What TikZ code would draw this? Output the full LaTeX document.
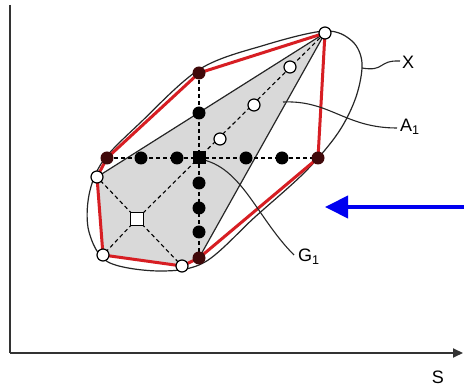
\documentclass[tikz,border=0pt]{standalone}
\usepackage{fontspec}
\setmainfont{Liberation Sans}
\usetikzlibrary{arrows.meta}
\definecolor{polyred}{RGB}{215,30,35}
\definecolor{arrowblue}{RGB}{0,0,240}
\tikzset{
  fdot/.style={circle,fill=black,inner sep=0pt,minimum size=13pt},
  rdot/.style={circle,fill=black!70!polyred,inner sep=0pt,minimum size=13pt},
  odot/.style={circle,draw=black,fill=white,line width=1.2pt,inner sep=0pt,minimum size=12pt},
  fsq/.style={rectangle,fill=black,inner sep=0pt,minimum size=13pt},
  osqr/.style={rectangle,draw=black,fill=white,line width=1.3pt,inner sep=0pt,minimum size=12.5pt},
  dashln/.style={line width=1.1pt,dash pattern=on 4pt off 3pt},
  outline/.style={line width=1.2pt,black!85},
  redpoly/.style={line width=3pt,polyred,line join=round},
  leader/.style={line width=1.1pt,black!85},
  lbl/.style={font=\fontsize{18}{20}\selectfont,inner sep=0pt},
  axis/.style={line width=2pt,black!80}
}
\begin{document}
\begin{tikzpicture}[x=1pt,y=-1pt]
\useasboundingbox[fill=white] (0,0) rectangle (464,387);
% coordinates
\coordinate (T) at (325,33);
\coordinate (O1) at (290,67);
\coordinate (O2) at (254,105);
\coordinate (O3) at (220,139);
\coordinate (UL) at (199,73);
\coordinate (V1) at (199,113);
\coordinate (H1) at (107,158);
\coordinate (H2) at (141,158);
\coordinate (H3) at (177,158);
\coordinate (SQ) at (199,158);
\coordinate (H5) at (246,158);
\coordinate (H6) at (282,158);
\coordinate (H7) at (318,158);
\coordinate (V3) at (199,183);
\coordinate (V4) at (199,208);
\coordinate (V5) at (199,232);
\coordinate (BT) at (199,258);
\coordinate (L) at (97,177);
\coordinate (OS) at (137,219);
\coordinate (BL) at (103,255);
\coordinate (B) at (182,266);
% axes
\coordinate (Otop) at (10,5);
\coordinate (Oorig) at (10,353);
\coordinate (Send) at (463,353);
\draw[axis] (Otop) -- (Oorig);
\draw[axis,-{Triangle[length=10pt,width=9pt]}] (Oorig) -- (Send);
\node[lbl] (S) at (438,377) {S};
% ellipse X
\draw[outline] plot[smooth cycle,tension=0.55] coordinates {
 (325,31) (352,41) (362,63) (356,97) (338,133) (305,172) (255,217) (205,262)
 (160,271) (108,262) (89,232) (89,195) (103,161) (140,123) (200,69) (265,45)};
% shaded region A1
\fill[gray!30] (T) -- (L) -- (BL) -- (B) -- (BT) -- cycle;
\draw[outline,line join=round] (T) -- (L) -- (BL) -- (B) -- (BT) -- cycle;
% dashed lines
\draw[dashln] (T) -- (OS);
\draw[dashln] (OS) -- (L);
\draw[dashln] (OS) -- (BL);
\draw[dashln] (OS) -- (B);
\draw[dashln] (H1) -- (H7);
\draw[dashln] (UL) -- (BT);
% red polygon
\draw[redpoly] (T) -- (H7) -- (BT) -- (B) -- (BL) -- (L) -- (H1) -- (UL) -- cycle;
% leaders
\coordinate (Xa) at (362,68);
\coordinate (Xb) at (400,61);
\draw[leader] (Xa) .. controls (385,72) and (378,60) .. (Xb);
\node[lbl,anchor=west] (Xl) at (402,62) {X};
\coordinate (Aa) at (283,102);
\coordinate (Ab) at (397,128);
\draw[leader] (Aa) .. controls (330,100) and (345,128) .. (Ab);
\node[lbl,anchor=west] (Al) at (400,127) {A\textsubscript{1}};
\coordinate (Ga) at (294,255);
\coordinate (Gb) at (204,160);
\draw[leader] (Ga) .. controls (258,219) and (243,170) .. (Gb);
\node[lbl,anchor=west] (Gl) at (298,257) {G\textsubscript{1}};
% points
\node[odot] (t) at (T) {};
\node[odot] (o1) at (O1) {};
\node[odot] (o2) at (O2) {};
\node[odot] (o3) at (O3) {};
\node[rdot] (ul) at (UL) {};
\node[fdot] (v1) at (V1) {};
\node[rdot] (h1) at (H1) {};
\node[fdot] (h2) at (H2) {};
\node[fdot] (h3) at (H3) {};
\node[fsq] (sq) at (SQ) {};
\node[fdot] (h5) at (H5) {};
\node[fdot] (h6) at (H6) {};
\node[rdot] (h7) at (H7) {};
\node[fdot] (v3) at (V3) {};
\node[fdot] (v4) at (V4) {};
\node[fdot] (v5) at (V5) {};
\node[rdot] (bt) at (BT) {};
\node[odot] (l) at (L) {};
\node[osqr] (os) at (OS) {};
\node[odot] (bl) at (BL) {};
\node[odot] (b) at (B) {};
% blue arrow
\coordinate (BA1) at (464,207);
\coordinate (BA2) at (325,207);
\draw[arrowblue,line width=4pt,-{Triangle[length=23pt,width=22pt]}] (BA1) -- (BA2);
\end{tikzpicture}
\end{document}
